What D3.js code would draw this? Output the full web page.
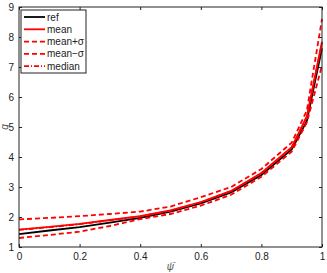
<!DOCTYPE html>
<html>
<head>
<meta charset="utf-8">
<script src="https://cdn.jsdelivr.net/npm/d3@7"></script>
<style>
  body { margin: 0; background: #fff; }
  text { font-family: "Liberation Sans", Arial, sans-serif; }
</style>
</head>
<body>
<div id="chart"></div>
<script>
// sample positions along psi
const psi = [0, 0.1, 0.2, 0.3, 0.4, 0.5, 0.6, 0.7, 0.8, 0.9, 0.95, 1]

const refVals    = [1.43, 1.55, 1.66, 1.81, 1.97, 2.18, 2.45, 2.82, 3.40, 4.25, 5.20, 7.62]
const meanVals   = [1.58, 1.67, 1.77, 1.90, 2.03, 2.22, 2.50, 2.87, 3.47, 4.33, 5.35, 7.84]
const upperVals  = [1.92, 1.97, 2.03, 2.10, 2.18, 2.35, 2.66, 3.00, 3.60, 4.48, 5.55, 8.60]
const lowerVals  = [1.30, 1.40, 1.51, 1.70, 1.93, 2.10, 2.38, 2.74, 3.34, 4.18, 5.15, 7.05]
const medianVals = [1.57, 1.66, 1.76, 1.89, 2.02, 2.21, 2.49, 2.86, 3.46, 4.32, 5.34, 7.81]

const xTicks = [0, 0.2, 0.4, 0.6, 0.8, 1]
const yTicks = [1, 2, 3, 4, 5, 6, 7, 8, 9]

const series = [
    {name: "ref",    values: refVals,    color: "#000", dash: null},
    {name: "mean",   values: meanVals,   color: "#f00", dash: null},
    {name: "mean+σ", values: upperVals,  color: "#f00", dash: "5,3"},
    {name: "mean−σ", values: lowerVals,  color: "#f00", dash: "5,3"},
    {name: "median", values: medianVals, color: "#f00", dash: "5,2,1,2"}
]

const W = 327, H = 273
const margin = {top: 7, right: 5, bottom: 26, left: 19}
const width = W - margin.left - margin.right,
      height = H - margin.top - margin.bottom

let svg = d3.select("#chart").append("svg")
    .attr("width", W)
    .attr("height", H)

let g = svg.append("g")
    .attr("transform", "translate(" + margin.left + "," + margin.top + ")")

let x = d3.scaleLinear().domain([0, 1]).range([0, width])
let y = d3.scaleLinear().domain([1, 9]).range([height, 0])

// axes, matlab style: ticks inward on all four sides
const styleAxis = (sel, hideText) => {
    sel.select(".domain").remove()
    sel.selectAll(".tick line").attr("stroke", "#222")
    sel.selectAll(".tick text")
        .attr("font-size", "10px")
        .attr("fill", "#222")
    if (hideText) sel.selectAll(".tick text").remove()
}

g.append("g")
    .attr("transform", "translate(0," + height + ")")
    .call(d3.axisBottom(x).tickValues(xTicks).tickFormat(d3.format("")).tickSizeInner(-3).tickPadding(6))
    .call(sel => styleAxis(sel, false))

g.append("g")
    .call(d3.axisTop(x).tickValues(xTicks).tickSizeInner(-3))
    .call(sel => styleAxis(sel, true))

g.append("g")
    .call(d3.axisLeft(y).tickValues(yTicks).tickSizeInner(-3).tickPadding(5))
    .call(sel => styleAxis(sel, false))

g.append("g")
    .attr("transform", "translate(" + width + ",0)")
    .call(d3.axisRight(y).tickValues(yTicks).tickSizeInner(-3))
    .call(sel => styleAxis(sel, true))

let line = d3.line()
    .x((d, i) => x(psi[i]))
    .y(d => y(d))

g.selectAll(".series")
    .data(series)
    .enter()
    .append("path")
    .attr("class", "series")
    .attr("d", d => line(d.values))
    .attr("fill", "none")
    .attr("stroke", d => d.color)
    .attr("stroke-width", 1.8)
    .attr("stroke-dasharray", d => d.dash)

// frame
g.append("rect")
    .attr("width", width)
    .attr("height", height)
    .attr("fill", "none")
    .attr("stroke", "#222")
    .attr("stroke-width", 1)

// axis labels
svg.append("text")
    .attr("x", margin.left + width / 2)
    .attr("y", 270)
    .attr("text-anchor", "middle")
    .attr("font-size", "10px")
    .attr("font-style", "italic")
    .attr("fill", "#555")
    .text("ψ̄")

svg.append("text")
    .attr("transform", "translate(8," + (margin.top + height / 2) + ") rotate(-90)")
    .attr("text-anchor", "middle")
    .attr("font-size", "10px")
    .attr("font-style", "italic")
    .attr("fill", "#555")
    .text("q")

// legend
let legend = svg.append("g").attr("transform", "translate(21,10)")

legend.append("rect")
    .attr("width", 65)
    .attr("height", 63)
    .attr("fill", "#fff")
    .attr("stroke", "#222")
    .attr("stroke-width", 1)

let items = legend.selectAll(".item")
    .data(series)
    .enter()
    .append("g")
    .attr("transform", (d, i) => "translate(0," + (7 + i * 12.3) + ")")

items.append("line")
    .attr("x1", 3)
    .attr("x2", 24)
    .attr("stroke", d => d.color)
    .attr("stroke-width", 1.8)
    .attr("stroke-dasharray", d => d.dash)

items.append("text")
    .attr("x", 26)
    .attr("y", 3.5)
    .attr("font-size", "10px")
    .attr("fill", "#222")
    .text(d => d.name)
</script>
</body>
</html>
